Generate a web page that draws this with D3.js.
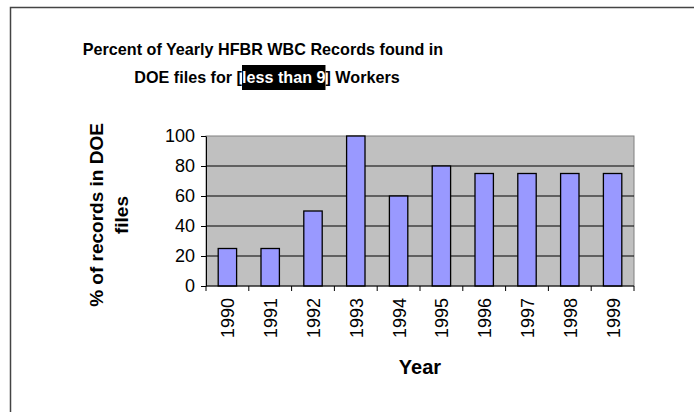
<!DOCTYPE html>
<html>
<head>
<meta charset="utf-8">
<script src="https://cdn.jsdelivr.net/npm/d3@7"></script>
<style>
body { margin: 0; background: #fff; }
svg { font-family: Arial, "Liberation Sans", sans-serif; }
</style>
</head>
<body>
<svg width="694" height="412"></svg>
<script>
// chart data
const years = ["1990", "1991", "1992", "1993", "1994", "1995", "1996", "1997", "1998", "1999"];
const percents = [25, 25, 50, 100, 60, 80, 75, 75, 75, 75];
const yTicks = [0, 20, 40, 60, 80, 100];

const svg = d3.select("svg");

// outer chart frame (cut off at right and bottom)
svg.append("rect")
  .attr("x", 10.5).attr("y", 7.5)
  .attr("width", 720).attr("height", 440)
  .attr("fill", "#fff")
  .attr("stroke", "#444")
  .attr("stroke-width", 1.5);

const pLeft = 206, pTop = 136, pRight = 634, pBottom = 286;

const x = d3.scaleBand().domain(years).range([pLeft, pRight]);
const y = d3.scaleLinear().domain([0, 100]).range([pBottom, pTop]);

// plot area
svg.append("rect")
  .attr("x", pLeft).attr("y", pTop)
  .attr("width", pRight - pLeft).attr("height", pBottom - pTop)
  .attr("fill", "#c0c0c0")
  .attr("stroke", "#808080")
  .attr("stroke-width", 1);

// gridlines
svg.append("g")
  .selectAll("line")
  .data(yTicks.filter(d => d > 0 && d < 100))
  .enter()
  .append("line")
  .attr("x1", pLeft).attr("x2", pRight)
  .attr("y1", d => y(d)).attr("y2", d => y(d))
  .attr("stroke", "#000")
  .attr("stroke-width", 1);

// bars
const bw = x.bandwidth() * 0.43;
svg.append("g")
  .selectAll("rect")
  .data(years)
  .enter()
  .append("rect")
  .attr("x", d => x(d) + (x.bandwidth() - bw) / 2)
  .attr("y", (d, i) => y(percents[i]))
  .attr("width", bw)
  .attr("height", (d, i) => y(0) - y(percents[i]))
  .attr("fill", "#9999ff")
  .attr("stroke", "#000")
  .attr("stroke-width", 1.3);

// Y axis
const yAxis = svg.append("g")
  .attr("transform", "translate(" + pLeft + ",0)")
  .call(d3.axisLeft(y).tickValues(yTicks).tickSize(5).tickPadding(6).tickSizeOuter(0));
yAxis.selectAll("text").style("font-size", "18px").attr("fill", "#000");
yAxis.selectAll("line, path").attr("stroke", "#000");

// X axis: ticks at band boundaries
const xAxis = svg.append("g")
  .attr("transform", "translate(0," + pBottom + ")");
xAxis.append("line")
  .attr("x1", pLeft).attr("x2", pRight)
  .attr("stroke", "#000");
xAxis.selectAll(".tk")
  .data(years.concat(["end"]))
  .enter()
  .append("line")
  .attr("class", "tk")
  .attr("x1", (d, i) => i < years.length ? x(d) : pRight)
  .attr("x2", (d, i) => i < years.length ? x(d) : pRight)
  .attr("y1", 0).attr("y2", 5)
  .attr("stroke", "#000");
xAxis.selectAll(".lbl")
  .data(years)
  .enter()
  .append("text")
  .attr("class", "lbl")
  .attr("transform", d => "translate(" + (x(d) + x.bandwidth() / 2 + 7) + ",12) rotate(-90)")
  .attr("text-anchor", "end")
  .style("font-size", "18px")
  .text(d => d);

// axis titles
svg.append("text")
  .attr("x", (pLeft + pRight) / 2).attr("y", 374)
  .attr("text-anchor", "middle")
  .style("font-size", "20px").style("font-weight", "bold")
  .text("Year");

const yl = svg.append("text")
  .attr("transform", "translate(103,215) rotate(-90)")
  .attr("text-anchor", "middle")
  .style("font-size", "19px").style("font-weight", "bold");
yl.append("tspan").attr("x", 0).attr("dy", 0).text("% of records in DOE");
yl.append("tspan").attr("x", 0).attr("dy", 25).text("files");

// title (slightly condensed, like the original)
const sx = 0.95;
svg.append("text")
  .attr("transform", "translate(263,55) scale(" + sx + ",1)")
  .attr("text-anchor", "middle")
  .style("font-size", "17px").style("font-weight", "bold")
  .text("Percent of Yearly HFBR WBC Records found in");

const g2 = svg.append("g")
  .attr("transform", "translate(267,83) scale(" + sx + ",1)");
const t2 = g2.append("text")
  .attr("text-anchor", "middle")
  .style("font-size", "17px").style("font-weight", "bold");
t2.append("tspan").text("DOE files for [");
t2.append("tspan").attr("fill", "#fff").text("less than 9");
t2.append("tspan").text("] Workers");

// black highlight behind "less than 9"
const start = "DOE files for [".length;
const end = start + "less than 9".length - 1;
const n = t2.node();
const a = n.getExtentOfChar(start), b = n.getExtentOfChar(end);
g2.insert("rect", "text")
  .attr("x", a.x).attr("y", -18)
  .attr("width", b.x + b.width - a.x).attr("height", 25)
  .attr("fill", "#000");
</script>
</body>
</html>
